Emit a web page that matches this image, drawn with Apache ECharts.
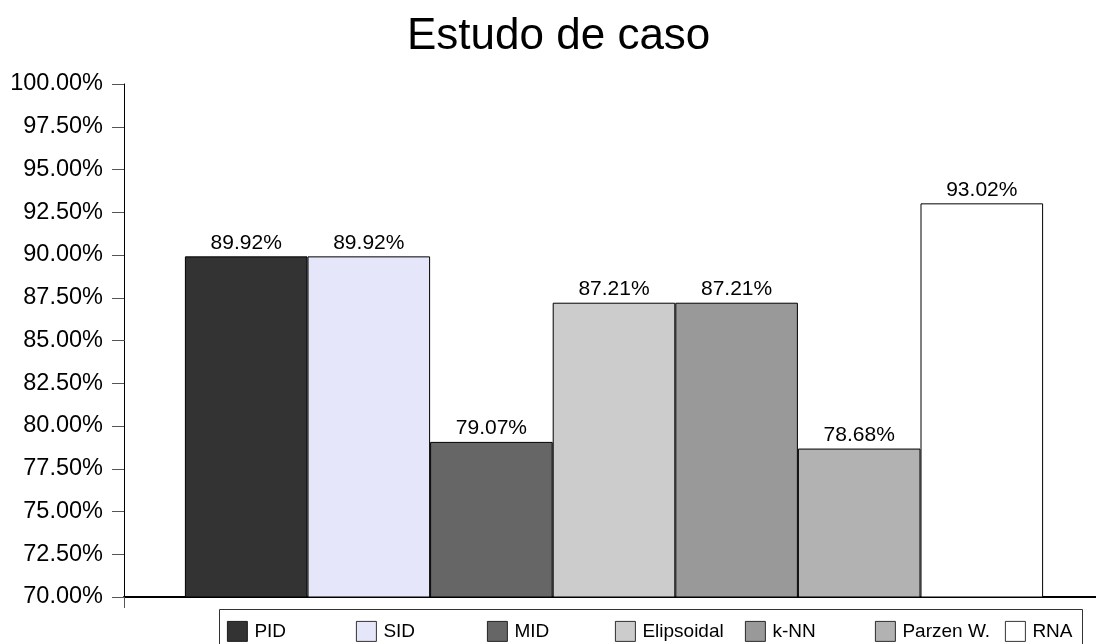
<!DOCTYPE html>
<html>
<head>
<meta charset="utf-8">
<script src="https://cdn.jsdelivr.net/npm/echarts@6/dist/echarts.min.js"></script>
<style>
  html, body { margin: 0; padding: 0; background: #fff; overflow: hidden; }
  /* the plot area runs past the right edge of the window */
  #chart { width: 1104px; height: 644px; }
</style>
</head>
<body>
<div id="chart"></div>
<script>
// Classifier accuracy for the case study (percent)
const methods = ['PID', 'SID', 'MID', 'Elipsoidal', 'k-NN', 'Parzen W.', 'RNA'];
const accuracy = [89.92, 89.92, 79.07, 87.21, 87.21, 78.68, 93.02];
const yTicks = { min: 70, max: 100, step: 2.5 };

// Fill colour per method
const palette = ['#333333', '#e6e6fa', '#666666', '#cccccc', '#999999', '#b2b2b2', '#ffffff'];
// Left edge of each legend entry
const legendLefts = [227, 356, 487, 615, 745, 875, 1005];

const FONT = '"Liberation Sans", Arial, sans-serif';

const chart = echarts.init(document.getElementById('chart'), null, { renderer: 'canvas' });

const series = methods.map((name, i) => ({
  name: name,
  type: 'bar',
  data: [accuracy[i]],
  barWidth: 122.6,
  barGap: '0%',
  itemStyle: { color: palette[i], borderColor: '#000', borderWidth: 1 },
  label: {
    show: true,
    position: 'top',
    distance: 3,
    color: '#000',
    fontFamily: FONT,
    fontSize: 21,
    formatter: p => p.value.toFixed(2) + '%'
  }
}));

const legends = methods.map((name, i) => ({
  data: [name],
  left: legendLefts[i],
  top: 621,
  padding: 0,
  itemWidth: 20,
  itemHeight: 20,
  icon: 'rect',
  selectedMode: false,
  itemStyle: { borderWidth: 0.8 },
  textStyle: { color: '#000', fontFamily: FONT, fontSize: 19, padding: [0, 0, 0, 2] }
}));

chart.setOption({
  animation: false,
  backgroundColor: '#fff',
  title: {
    text: 'Estudo de caso',
    left: 407,
    top: 15,
    padding: 0,
    textStyle: { color: '#000', fontFamily: FONT, fontSize: 44, fontWeight: 'normal' }
  },
  legend: legends,
  graphic: [{
    type: 'rect',
    shape: { x: 219.5, y: 609.5, width: 863, height: 60 },
    style: { fill: 'none', stroke: '#333', lineWidth: 1 },
    z: 0
  }],
  grid: { left: 124, right: 0, top: 84, bottom: 47, containLabel: false },
  xAxis: {
    type: 'category',
    data: [''],
    axisLine: { lineStyle: { color: '#000', width: 2 } },
    axisTick: { show: true, length: 11, lineStyle: { color: '#555', width: 1 } },
    axisLabel: { show: false },
    splitLine: { show: false }
  },
  yAxis: {
    type: 'value',
    min: yTicks.min,
    max: yTicks.max,
    interval: yTicks.step,
    axisLine: { show: true, lineStyle: { color: '#000', width: 1 } },
    axisTick: { show: true, length: 12, lineStyle: { color: '#555', width: 1 } },
    axisLabel: {
      color: '#000',
      fontFamily: FONT,
      fontSize: 23.5,
      margin: 21,
      formatter: v => v.toFixed(2) + '%'
    },
    splitLine: { show: false }
  },
  series: series
});
</script>
</body>
</html>
